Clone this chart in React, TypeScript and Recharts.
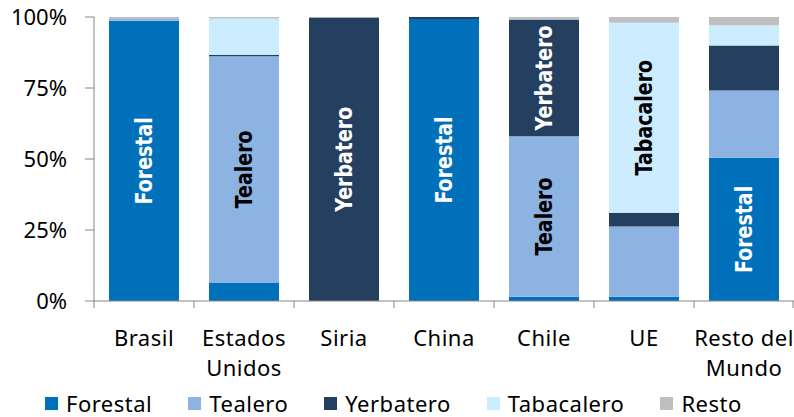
import React from "react";
import { BarChart, Bar, XAxis, YAxis, LabelList } from "recharts";

// categorías (eje X) y su texto en dos líneas
const categories = ["Brasil", "Estados Unidos", "Siria", "China", "Chile", "UE", "Resto del Mundo"];
const tickLabels = ["Brasil", "Estados\nUnidos", "Siria", "China", "Chile", "UE", "Resto del\nMundo"];

// participación por destino (%)
const forestal = [98.7, 6.5, 0, 99.3, 1.5, 1.5, 50.4];
const tealero = [0.6, 79.7, 0, 0, 56.5, 24.7, 23.7];
const yerbatero = [0, 0.5, 99.8, 0.7, 41.1, 4.9, 15.9];
const tabacalero = [0, 12.8, 0, 0, 0.1, 66.9, 7.1];
const resto = [0.7, 0.5, 0.2, 0, 0.8, 2.0, 2.9];

const yTicks = [0, 0.25, 0.5, 0.75, 1];

// rótulos dentro de las barras
const forestalLabeled = ["Brasil", "China", "Resto del Mundo"];
const tealeroLabeled = ["Estados Unidos", "Chile"];
const yerbateroLabeled = ["Siria", "Chile"];
const tabacaleroLabeled = ["UE"];
const restoLabeled: string[] = [];

const series = [
  { key: "forestal", name: "Forestal", values: forestal, labeled: forestalLabeled, color: "#0070BA", text: "#fff" },
  { key: "tealero", name: "Tealero", values: tealero, labeled: tealeroLabeled, color: "#8DB3E2", text: "#000" },
  { key: "yerbatero", name: "Yerbatero", values: yerbatero, labeled: yerbateroLabeled, color: "#243F60", text: "#fff" },
  { key: "tabacalero", name: "Tabacalero", values: tabacalero, labeled: tabacaleroLabeled, color: "#CCECFF", text: "#000" },
  { key: "resto", name: "Resto", values: resto, labeled: restoLabeled, color: "#BFBFBF", text: "#000" },
];

const data = categories.map((c, i) => {
  const row: Record<string, string | number> = { name: c, label: tickLabels[i] };
  series.forEach((s) => {
    row[s.key] = s.values[i];
    row[s.key + "Label"] = s.labeled.includes(c) ? s.name : "";
  });
  return row;
});

const W = 794;
const H = 385;
const Y_AXIS_W = 94;
const MARGIN = { top: 17, right: 0, left: 0, bottom: 0 };
const BAND = (W - Y_AXIS_W - MARGIN.left - MARGIN.right) / categories.length;
const FONT = "'Noto Sans', sans-serif";
const FS = 22;
const AXIS = "#868686";

function XTick(props: any) {
  const { x, y, payload, index } = props;
  const lines = String(tickLabels[index] ?? payload.value).split("\n");
  const last = index === categories.length - 1;
  return (
    <g>
      <line x1={x - BAND / 2} x2={x - BAND / 2} y1={y} y2={y + 7} stroke={AXIS} />
      {last && <line x1={x + BAND / 2 - 1} x2={x + BAND / 2 - 1} y1={y} y2={y + 7} stroke={AXIS} />}
      <text x={x} y={y + 45} textAnchor="middle" fontSize={FS} fontFamily={FONT} fill="#000" letterSpacing={0.5}>
        {lines.map((l, i) => (
          <tspan key={i} x={x} dy={i === 0 ? 0 : 30}>
            {l}
          </tspan>
        ))}
      </text>
    </g>
  );
}

// texto vertical, algo estirado a lo ancho como en el original
function barLabel(color: string) {
  return (props: any) => {
    const { x, y, width, height, value } = props;
    if (!value) return null;
    const cx = x + width / 2;
    const cy = y + height / 2;
    return (
      <text
        x={0}
        y={0}
        transform={`translate(${cx} ${cy}) rotate(-90) scale(1 1.25)`}
        textAnchor="middle"
        dominantBaseline="central"
        fontSize={19}
        fontWeight="bold"
        fontFamily="'DejaVu Sans', sans-serif"
        fill={color}
      >
        {value}
      </text>
    );
  };
}

export default function App() {
  return (
    <div style={{ position: "relative", width: W, height: 417, background: "#fff" }}>
      <style>{"body{margin:0}"}</style>
      <BarChart width={W} height={H} data={data} margin={MARGIN} stackOffset="expand" barCategoryGap="15%">
        <XAxis
          dataKey="name"
          interval={0}
          axisLine={{ stroke: AXIS }}
          tickLine={false}
          tickSize={0}
          tickMargin={0}
          height={H - 301 - MARGIN.bottom}
          tick={<XTick />}
        />
        <YAxis
          width={Y_AXIS_W}
          domain={[0, 1]}
          ticks={yTicks}
          tickFormatter={(v: number) => `${Math.round(v * 100)}%`}
          axisLine={{ stroke: AXIS }}
          tickLine={{ stroke: AXIS }}
          tickSize={9}
          tickMargin={18}
          tick={{ fontSize: FS, fontFamily: FONT, fill: "#000" }}
          interval={0}
        />
        {series.map((s) => (
          <Bar key={s.key} dataKey={s.key} stackId="a" fill={s.color} isAnimationActive={false}>
            <LabelList dataKey={s.key + "Label"} content={barLabel(s.text)} />
          </Bar>
        ))}
      </BarChart>
      <div
        style={{
          position: "absolute",
          left: 45,
          top: 388,
          display: "flex",
          alignItems: "center",
          gap: 36,
          fontFamily: FONT,
          fontSize: FS,
          letterSpacing: 0.5,
          color: "#000",
        }}
      >
        {series.map((s) => (
          <div key={s.key} style={{ display: "flex", alignItems: "center" }}>
            <span style={{ width: 13, height: 13, background: s.color, marginRight: 8, display: "inline-block" }} />
            <span>{s.name}</span>
          </div>
        ))}
      </div>
    </div>
  );
}
